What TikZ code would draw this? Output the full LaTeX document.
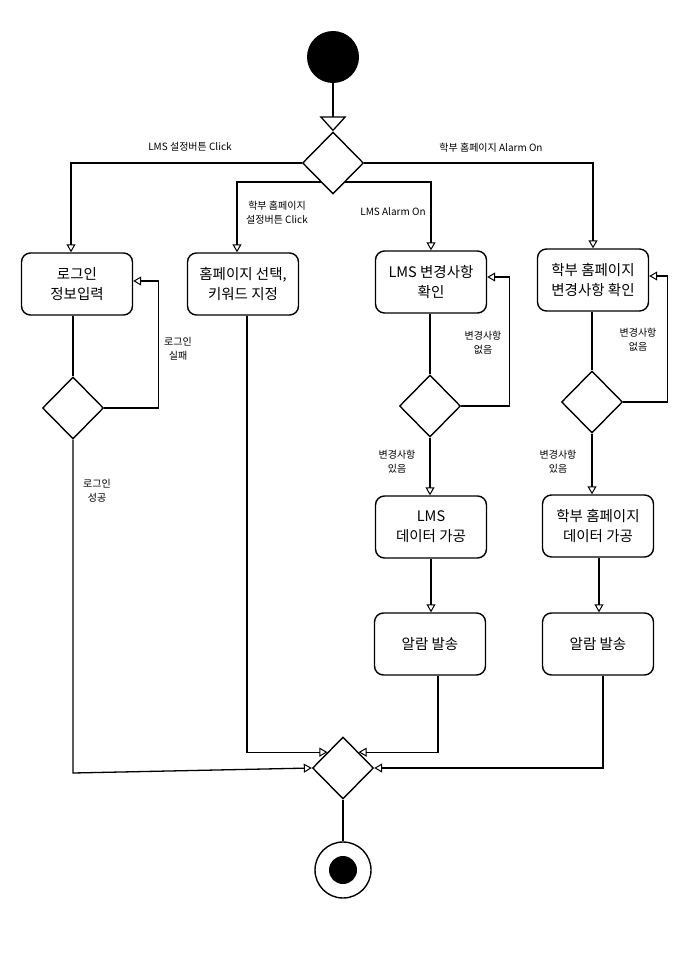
\documentclass[tikz,border=0pt]{standalone}
\usepackage{fontspec}
\newfontfamily\kr{Noto Sans CJK KR}
\usetikzlibrary{shapes.geometric,arrows.meta,calc}
\tikzset{
 box/.style={draw, line width=1.4pt, rounded corners=9pt, minimum width=111pt, minimum height=62pt, align=center, font=\kr\fontsize{14.5}{20}\selectfont, inner sep=2pt},
 dec/.style={draw, diamond, line width=1.4pt, minimum width=61pt, minimum height=62pt, inner sep=0pt},
 lbl/.style={font=\kr\fontsize{10}{14}\selectfont, align=center, inner sep=0pt},
 conn/.style={line width=1.3pt},
 flow/.style={conn, -{Triangle[open, width=9pt, length=8pt, line width=1pt]}},
 flowbig/.style={conn, -{Triangle[open, width=27pt, length=15pt, line width=1.3pt]}},
}
\begin{document}
\begin{tikzpicture}[x=1pt,y=-1pt]
\useasboundingbox[fill=white] (0,0) rectangle (679,960);
% nodes
\node[circle, fill, minimum size=52pt, inner sep=0pt] (start) at (333,57) {};
\node[dec] (d1) at (333,163) {};
\node[box] (login) at (77,284) {로그인\\정보입력};
\node[dec] (dlog) at (73,408) {};
\node[box] (home) at (243,284) {홈페이지 선택,\\키워드 지정};
\node[box] (lmsc) at (431,282) {LMS 변경사항\\확인};
\node[dec] (dlms) at (430,406) {};
\node[box] (hakc) at (593,280) {학부 홈페이지\\변경사항 확인};
\node[dec] (dhak) at (592,402) {};
\node[box] (lmsd) at (431,527) {LMS\\데이터 가공};
\node[box] (lmsa) at (430,644) {알람 발송};
\node[box] (hakd) at (598,526) {학부 홈페이지\\데이터 가공};
\node[box] (haka) at (598,644) {알람 발송};
\node[dec] (merge) at (343,768) {};
\node[circle, draw, line width=1.4pt, minimum size=56pt, inner sep=0pt] (end) at (343,870) {};
\node[circle, fill, minimum size=28pt, inner sep=0pt] (endin) at (end.center) {};
\coordinate (cl) at (71,773);
% labels
\node[lbl] (l1) at (190,147) {LMS 설정버튼 Click};
\node[lbl] (l2) at (491,148) {학부 홈페이지 Alarm On};
\node[lbl] (l3) at (277,213) {학부 홈페이지\\설정버튼 Click};
\node[lbl] (l4) at (393,212) {LMS Alarm On};
\node[lbl] (l5) at (178,349) {로그인\\실패};
\node[lbl] (l6) at (97,491) {로그인\\성공};
\node[lbl] (l7) at (483,343) {변경사항\\없음};
\node[lbl] (l8) at (397,462) {변경사항\\있음};
\node[lbl] (l9) at (638,340) {변경사항\\없음};
\node[lbl] (l10) at (558,462) {변경사항\\있음};
% connectors
\draw[flowbig] (start) -- (d1.north);
\draw[flow] (d1.west) -| ([xshift=-6pt]login.north);
\draw[flow] (d1.east) -| (hakc.north);
\draw[flow] ($(d1.south)!0.4!(d1.west)$) -| ([xshift=-6pt]home.north);
\draw[flow] ($(d1.south)!0.4!(d1.east)$) -| (lmsc.north);
\draw[conn] (login.south -| dlog.north) -- (dlog.north);
\draw[flow] (dlog.east) -- ++(54,0) |- ([yshift=3pt]login.east);
\draw[flow] (dlog.south) -- (dlog.south |- cl) -- (merge.west);
\draw[flow] ([xshift=4pt]home.south) |- ($(merge.north)!0.5!(merge.west)$);
\draw[conn] (lmsc.south -| dlms.north) -- (dlms.north);
\draw[flow] (dlms.east) -- ++(48,0) |- ([yshift=5pt]lmsc.east);
\draw[flow] (dlms.south) -- (dlms.south |- lmsd.north);
\draw[flow] (lmsd.south) -- (lmsd.south |- lmsa.north);
\draw[flow] ([xshift=8pt]lmsa.south) |- ($(merge.north)!0.5!(merge.east)$);
\draw[conn] (hakc.south -| dhak.north) -- (dhak.north);
\draw[flow] (dhak.east) -- ++(44,0) |- ([yshift=4pt]hakc.east);
\draw[flow] (dhak.south) -- (dhak.south |- hakd.north);
\draw[flow] ([xshift=1pt]hakd.south) -- ([xshift=1pt]haka.north);
\draw[flow] ([xshift=5pt]haka.south) |- (merge.east);
\draw[conn] (merge.south) -- (end.north);
\end{tikzpicture}
\end{document}
